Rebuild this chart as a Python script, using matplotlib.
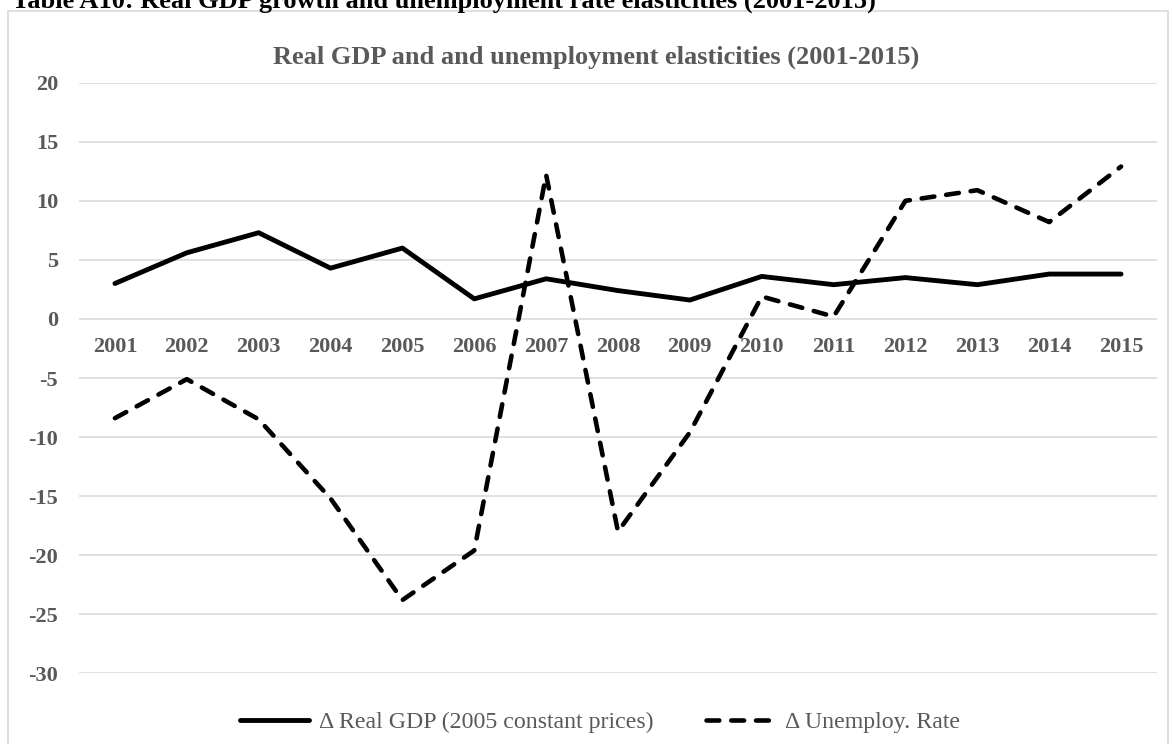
import matplotlib
matplotlib.use("Agg")
import matplotlib.pyplot as plt
from matplotlib.patches import Rectangle

years = ["2001", "2002", "2003", "2004", "2005", "2006", "2007", "2008",
         "2009", "2010", "2011", "2012", "2013", "2014", "2015"]
real_gdp = [3.0, 5.6, 7.3, 4.3, 6.0, 1.7, 3.4, 2.4, 1.6, 3.6, 2.9, 3.5, 2.9, 3.8, 3.8]
unemploy = [-8.4, -5.1, -8.5, -15.2, -23.8, -19.6, 12.2, -18.0, -9.6, 1.9, 0.2,
            10.0, 10.9, 8.2, 12.9]
y_ticks = [-30, -25, -20, -15, -10, -5, 0, 5, 10, 15, 20]

caption = "Table A10: Real GDP growth and unemployment rate elasticities (2001-2015)"
title = "Real GDP and and unemployment elasticities (2001-2015)"
label_gdp = "\u0394 Real GDP (2005 constant prices)"
label_unemp = "\u0394 Unemploy. Rate"

plt.rcParams["font.family"] = ["Liberation Serif", "DejaVu Serif"]

W, H = 1173, 744
fig = plt.figure(figsize=(W / 100, H / 100), dpi=100)

# outer chart frame
fig.patches.append(Rectangle((8 / W, -0.05), 1160 / W, (H - 11) / H + 0.05,
                             transform=fig.transFigure, fill=False,
                             edgecolor="#d9d9d9", linewidth=1.2))

fig.text(12 / W, 1 - 8 / H, caption, fontsize=19, fontweight="bold",
         color="black", ha="left", va="baseline")
fig.text(596 / W, 1 - 64 / H, title, fontsize=19, fontweight="bold",
         color="#595959", ha="center", va="baseline")

ax = fig.add_axes([79 / W, (H - 673.3) / H, (1157 - 79) / W, (673.3 - 82.7) / H])

x = list(range(len(years)))
l1, = ax.plot(x, real_gdp, color="black", linewidth=3.5,
              solid_joinstyle="round", solid_capstyle="round")
l2, = ax.plot(x, unemploy, color="black", linewidth=3.3,
              dashes=(2.8, 2.6), dash_capstyle="round", dash_joinstyle="round")

ax.set_xlim(-0.5, len(years) - 0.5)
ax.set_ylim(-30, 20)
ax.set_yticks(y_ticks)
ax.set_yticklabels([str(v) for v in y_ticks])
ax.set_xticks(x)
ax.set_xticklabels(years)

ax.grid(axis="y", color="#d9d9d9", linewidth=1.2)
ax.set_axisbelow(True)
for side in ["top", "right", "left"]:
    ax.spines[side].set_visible(False)
ax.spines["bottom"].set_position(("data", 0))
ax.spines["bottom"].set_color("none")

ax.tick_params(axis="both", length=0, labelsize=16, labelcolor="#595959")
ax.tick_params(axis="x", pad=13)
ax.tick_params(axis="y", pad=15)
for lab in ax.get_xticklabels() + ax.get_yticklabels():
    lab.set_fontweight("bold")

leg = fig.legend([l1, l2], [label_gdp, label_unemp], loc="center",
                 bbox_to_anchor=(600 / W, 22 / H), ncol=2, frameon=False,
                 fontsize=17.2, handlelength=2.9, handletextpad=0.42,
                 columnspacing=2.2)
for t in leg.get_texts():
    t.set_color("#595959")

fig.savefig("out.png", dpi=100)
